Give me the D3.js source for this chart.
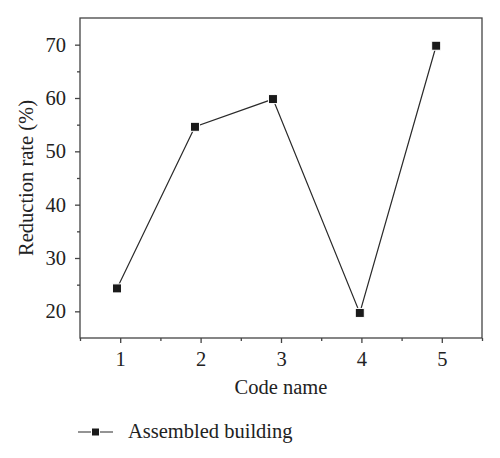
<!DOCTYPE html>
<html>
<head>
<meta charset="utf-8">
<script src="https://cdn.jsdelivr.net/npm/d3@7"></script>
<style>
body { margin: 0; background: #fff; }
svg text { font-family: "Liberation Serif", "DejaVu Serif", serif; fill: #222; }
</style>
</head>
<body>
<svg width="500" height="458"></svg>
<script>
var codes = [1, 2, 3, 4, 5];
var codePos = [0.96, 1.93, 2.9, 3.98, 4.93];
var reduction = [24.3, 54.6, 59.8, 19.7, 69.8];
var yTicks = [20, 30, 40, 50, 60, 70];
var seriesName = "Assembled building";

var data = codes.map(function(c, i) {
    return {code: c, pos: codePos[i], value: reduction[i]};
});

var svg = d3.select("svg");
var mLeft = 80, mTop = 18, mRight = 482, mBottom = 338;
var fs = 20.5;

var x = d3.scaleLinear().domain([0.5, 5.5]).range([mLeft, mRight]);
var y = d3.scaleLinear().domain([15, 75]).range([mBottom, mTop]);

// frame
svg.append("rect")
    .attr("x", mLeft).attr("y", mTop)
    .attr("width", mRight - mLeft).attr("height", mBottom - mTop)
    .attr("fill", "none").attr("stroke", "#444").attr("stroke-width", 1.3);

// minor ticks
svg.append("g")
    .attr("transform", "translate(0," + mBottom + ")")
    .call(d3.axisBottom(x).tickValues([0.5, 1.5, 2.5, 3.5, 4.5, 5.5]).tickSize(3).tickFormat(""))
    .call(function(g) { g.select(".domain").remove(); g.selectAll("line").attr("stroke", "#444").attr("stroke-width", 1.3); });

svg.append("g")
    .attr("transform", "translate(" + mLeft + ",0)")
    .call(d3.axisLeft(y).tickValues([25, 35, 45, 55, 65]).tickSize(3).tickFormat(""))
    .call(function(g) { g.select(".domain").remove(); g.selectAll("line").attr("stroke", "#444").attr("stroke-width", 1.3); });

// major ticks
var xAxis = svg.append("g")
    .attr("transform", "translate(0," + mBottom + ")")
    .call(d3.axisBottom(x).tickValues(codes).tickSize(5).tickPadding(8).tickFormat(d3.format("d")));
xAxis.select(".domain").remove();
xAxis.selectAll("line").attr("stroke", "#444").attr("stroke-width", 1.3);
xAxis.selectAll("text").attr("font-size", fs).attr("fill", "#222");

var yAxis = svg.append("g")
    .attr("transform", "translate(" + mLeft + ",0)")
    .call(d3.axisLeft(y).tickValues(yTicks).tickSize(5).tickPadding(9));
yAxis.select(".domain").remove();
yAxis.selectAll("line").attr("stroke", "#444").attr("stroke-width", 1.3);
yAxis.selectAll("text").attr("font-size", fs).attr("fill", "#222");

// axis titles
svg.append("text")
    .attr("x", (mLeft + mRight) / 2).attr("y", 394)
    .attr("text-anchor", "middle").attr("font-size", fs)
    .text("Code name");

svg.append("text")
    .attr("transform", "translate(33," + ((mTop + mBottom) / 2) + ") rotate(-90)")
    .attr("text-anchor", "middle").attr("font-size", fs)
    .text("Reduction rate (%)");

// series
var line = d3.line()
    .x(function(d) { return x(d.pos); })
    .y(function(d) { return y(d.value); });

svg.append("path")
    .datum(data)
    .attr("d", line)
    .attr("fill", "none").attr("stroke", "#2a2a2a").attr("stroke-width", 1.2);

svg.selectAll(".pt")
    .data(data)
    .enter().append("rect")
    .attr("class", "pt")
    .attr("x", function(d) { return x(d.pos) - 4.5; })
    .attr("y", function(d) { return y(d.value) - 4.5; })
    .attr("width", 9).attr("height", 9)
    .attr("fill", "#1a1a1a").attr("stroke", "#fff").attr("stroke-width", 1);

// legend
var lg = svg.append("g").attr("transform", "translate(78,432)");
lg.append("line").attr("x1", 0).attr("x2", 35).attr("y1", 0).attr("y2", 0)
    .attr("stroke", "#2a2a2a").attr("stroke-width", 1.2);
lg.append("rect").attr("x", 13.5).attr("y", -4).attr("width", 8).attr("height", 8)
    .attr("fill", "#1a1a1a").attr("stroke", "#fff").attr("stroke-width", 1);
lg.append("text").attr("x", 50).attr("y", 6).attr("font-size", fs).text(seriesName);
</script>
</body>
</html>
